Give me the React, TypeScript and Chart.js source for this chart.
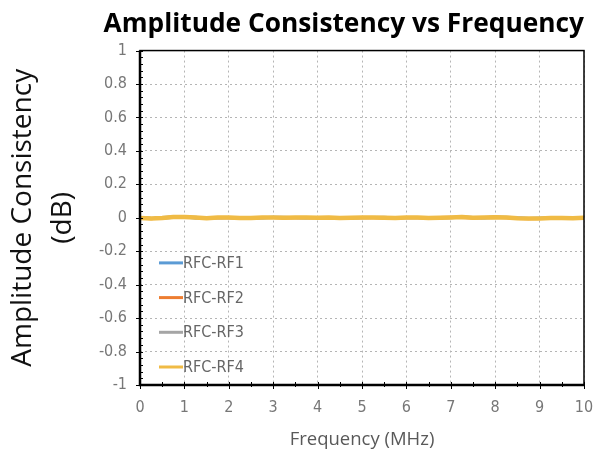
import React, { useEffect, useRef } from "react";
import { Chart, registerables } from "chart.js";

Chart.register(...registerables);

const TITLE = "Amplitude Consistency vs Frequency";
const Y_TITLE = ["Amplitude Consistency", "(dB)"];
const X_TITLE = "Frequency (MHz)";
const SERIES_NAMES = ["RFC-RF1", "RFC-RF2", "RFC-RF3", "RFC-RF4"];
const SERIES_COLORS = ["#5b9bd5", "#ed7d31", "#a5a5a5", "#f0bb45"];

const FREQ = [
  0, 0.25, 0.5, 0.75, 1, 1.25, 1.5, 1.75, 2, 2.25, 2.5, 2.75, 3, 3.25, 3.5, 3.75, 4, 4.25, 4.5, 4.75, 5,
  5.25, 5.5, 5.75, 6, 6.25, 6.5, 6.75, 7, 7.25, 7.5, 7.75, 8, 8.25, 8.5, 8.75, 9, 9.25, 9.5, 9.75, 10,
];
const RF1 = [
  0.0, -0.004, 0.002, 0.005, 0.004, -0.002, 0.001, 0.0, 0.002, 0.001, -0.001, 0.0, 0.003, 0.001, 0.002, 0.0, 0.001,
  0.002, 0.0, -0.001, 0.001, 0.002, 0.001, 0.0, 0.002, 0.001, -0.001, 0.0, 0.002, 0.003, 0.001, 0.0, 0.004, 0.002,
  -0.002, -0.004, -0.003, -0.002, 0.0, -0.002, 0.0,
];
const RF2 = [
  -0.002, -0.006, 0.0, 0.004, 0.006, 0.0, -0.002, 0.002, 0.0, -0.003, 0.0, 0.002, 0.001, -0.002, 0.0, 0.002, 0.0,
  -0.001, 0.001, 0.0, 0.002, 0.0, -0.002, 0.001, 0.0, 0.002, 0.0, 0.001, 0.003, 0.001, -0.001, 0.002, 0.003, 0.0,
  -0.004, -0.006, -0.004, -0.001, -0.002, -0.003, -0.001,
];
const RF3 = [
  0.002, -0.003, -0.004, 0.003, 0.005, 0.003, -0.004, 0.0, 0.001, 0.0, -0.002, -0.001, 0.002, 0.003, 0.0, -0.002,
  0.001, 0.002, -0.001, 0.001, 0.0, 0.001, 0.003, -0.001, 0.001, 0.0, 0.002, -0.002, 0.0, 0.004, 0.002, -0.001,
  0.002, 0.003, 0.0, -0.005, -0.003, -0.004, 0.0, -0.001, 0.001,
];
const RF4 = [
  -0.001, -0.005, -0.002, 0.004, 0.005, 0.001, -0.003, 0.001, 0.001, -0.002, -0.002, 0.001, 0.002, 0.0, 0.001,
  0.001, 0.0, 0.001, -0.002, 0.0, 0.001, 0.002, 0.0, -0.002, 0.001, 0.002, -0.001, 0.0, 0.002, 0.005, 0.0, 0.001,
  0.003, 0.002, -0.003, -0.005, -0.005, -0.002, -0.001, -0.003, 0.0,
];
const SERIES = [RF1, RF2, RF3, RF4];

const X_MIN = 0, X_MAX = 10, X_STEP = 1, X_MINOR = 0.5;
const Y_MIN = -1, Y_MAX = 1, Y_STEP = 0.2, Y_MINOR = 0.04;

const NARROW = "'Liberation Sans Narrow', 'DejaVu Sans Condensed', sans-serif";
const TICK_FONT = { family: NARROW, size: 16 };

const framePlugin = {
  id: "frame",
  afterDatasetsDraw(chart: any) {
    const { ctx, chartArea: a, scales } = chart;
    const xs = scales.x, ys = scales.y;
    ctx.save();
    ctx.strokeStyle = "#000";
    ctx.lineWidth = 1;
    for (let v = Y_MIN; v <= Y_MAX + 1e-9; v += Y_MINOR) {
      const py = Math.round(ys.getPixelForValue(v)) + 0.5;
      ctx.beginPath();
      ctx.moveTo(a.left, py);
      ctx.lineTo(a.left + 3, py);
      ctx.stroke();
    }
    for (let v = Y_MIN; v <= Y_MAX + 1e-9; v += Y_STEP) {
      const py = Math.round(ys.getPixelForValue(v)) + 0.5;
      ctx.beginPath();
      ctx.moveTo(a.left - 4, py);
      ctx.lineTo(a.left + 3, py);
      ctx.stroke();
    }
    for (let v = X_MIN; v <= X_MAX + 1e-9; v += X_MINOR) {
      const px = Math.round(xs.getPixelForValue(v)) + 0.5;
      const major = Math.abs(v - Math.round(v)) < 1e-6;
      ctx.beginPath();
      ctx.moveTo(px, a.bottom + (major ? 4 : 2));
      ctx.lineTo(px, a.bottom - 3);
      ctx.stroke();
    }
    ctx.lineWidth = 1.5;
    ctx.strokeRect(a.left, a.top, a.right - a.left, a.bottom - a.top);
    ctx.lineWidth = 2.5;
    ctx.beginPath();
    ctx.moveTo(a.left, a.top);
    ctx.lineTo(a.left, a.bottom);
    ctx.lineTo(a.right, a.bottom);
    ctx.stroke();
    // legend inside plot area
    const ds = chart.data.datasets;
    ctx.font = "16px " + NARROW;
    ctx.textBaseline = "middle";
    ctx.textAlign = "left";
    for (let i = 0; i < ds.length; i++) {
      const y = a.bottom - 18 - (ds.length - 1 - i) * 34.7;
      ctx.strokeStyle = ds[i].borderColor;
      ctx.lineWidth = 3;
      ctx.beginPath();
      ctx.moveTo(a.left + 19, y);
      ctx.lineTo(a.left + 43, y);
      ctx.stroke();
      ctx.fillStyle = "#666";
      ctx.fillText(ds[i].label, a.left + 43, y + 1);
    }
    ctx.restore();
  },
};

export default function App() {
  const ref = useRef<HTMLCanvasElement>(null);
  useEffect(() => {
    const datasets = SERIES.map((s, i) => ({
      label: SERIES_NAMES[i],
      data: FREQ.map((f, j) => ({ x: f, y: s[j] })),
      borderColor: SERIES_COLORS[i],
      backgroundColor: SERIES_COLORS[i],
      borderWidth: i === 3 ? 4.5 : 3,
      order: SERIES.length - 1 - i,
      pointRadius: 0,
      tension: 0,
      fill: false,
    }));
    const chart = new Chart(ref.current!, {
      type: "line",
      data: { datasets },
      plugins: [framePlugin],
      options: {
        animation: false,
        responsive: false,
        maintainAspectRatio: false,
        layout: { padding: { left: 0, right: 9, top: 0, bottom: 0 } },
        plugins: {
          legend: { display: false },
          tooltip: { enabled: false },
          title: {
            display: true,
            text: TITLE,
            align: "end",
            color: "#000",
            font: { family: "'Open Sans', sans-serif", size: 26.3, weight: "bold" },
            padding: { top: 9, bottom: 10 },
          },
        },
        scales: {
          x: {
            type: "linear",
            min: X_MIN,
            max: X_MAX,
            ticks: { stepSize: X_STEP, color: "#777", font: TICK_FONT, padding: 13 },
            grid: { color: "#b5b5b5", drawTicks: false, tickLength: 0 },
            border: { display: false, dash: [2, 3] },
            title: {
              display: true,
              text: X_TITLE,
              color: "#595959",
              font: { family: "'Open Sans', sans-serif", size: 18.5 },
              padding: { top: 0, bottom: 8 },
            },
            afterFit: (s: any) => {
              s.height = 74;
              s.paddingLeft = 0;
              s.paddingRight = 0;
            },
          },
          y: {
            type: "linear",
            min: Y_MIN,
            max: Y_MAX,
            ticks: {
              stepSize: Y_STEP,
              color: "#777",
              font: TICK_FONT,
              padding: 13,
              callback: (v: any) => String(Math.round(Number(v) * 10) / 10),
            },
            grid: { color: "#b5b5b5", drawTicks: false, tickLength: 0 },
            border: { display: false, dash: [2, 3] },
            title: {
              display: true,
              text: Y_TITLE,
              color: "#111",
              font: { family: "'Open Sans', sans-serif", size: 28, lineHeight: "40px" },
              padding: { top: 3, bottom: 0 },
            },
            afterFit: (s: any) => {
              s.width = 140;
              s.paddingTop = 0;
              s.paddingBottom = 0;
            },
          },
        },
      } as any,
    });
    return () => chart.destroy();
  }, []);
  return (
    <div style={{ position: "fixed", left: 0, top: 0, width: 593, height: 459, background: "#fff" }}>
      <canvas ref={ref} width={593} height={459} />
    </div>
  );
}
